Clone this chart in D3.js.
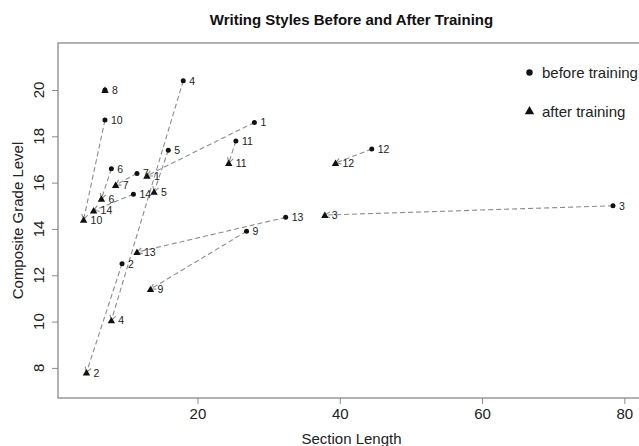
<!DOCTYPE html>
<html>
<head>
<meta charset="utf-8">
<script src="https://cdn.jsdelivr.net/npm/d3@7"></script>
<style>
  body { margin: 0; background: #fff; }
  svg { display: block; font-family: "Liberation Sans", Arial, sans-serif; }
</style>
</head>
<body>
<div id="chart"></div>
<script>
// essay ids and values
const ids = [1, 2, 3, 4, 5, 6, 7, 8, 9, 10, 11, 12, 13, 14]
const beforeLength = [28.0, 9.4, 78.4, 18.0, 15.9, 7.9, 11.5, 7.0, 26.9, 7.0, 25.4, 44.5, 32.4, 11.0]
const beforeGrade = [18.6, 12.5, 15.0, 20.4, 17.4, 16.6, 16.4, 20.0, 13.9, 18.7, 17.8, 17.45, 14.5, 15.5]
const afterLength = [12.9, 4.4, 37.9, 7.9, 13.9, 6.5, 8.5, 7.0, 13.4, 4.0, 24.4, 39.4, 11.5, 5.4]
const afterGrade = [16.3, 7.8, 14.6, 10.05, 15.6, 15.3, 15.9, 20.0, 11.4, 14.4, 16.85, 16.85, 13.0, 14.8]

const xTicks = [20, 40, 60, 80]
const yTicks = [8, 10, 12, 14, 16, 18, 20]

const W = 639, H = 446
const box = {left: 58, right: 645, top: 43, bottom: 398}

const svg = d3.select("#chart").append("svg")
  .attr("width", W).attr("height", H)

const x = d3.scaleLinear().domain([0.4, 82.9]).range([box.left, box.right])
const y = d3.scaleLinear().domain([6.7, 22.03]).range([box.bottom, box.top])

const axisColor = "#8a8a8a"
const textColor = "#222"

// frame
svg.append("rect")
  .attr("x", box.left).attr("y", box.top)
  .attr("width", box.right - box.left).attr("height", box.bottom - box.top)
  .attr("fill", "none").attr("stroke", axisColor).attr("stroke-width", 1.3)

// x axis
const xa = svg.append("g").attr("transform", `translate(0,${box.bottom})`)
  .call(d3.axisBottom(x).tickValues(xTicks).tickSize(6).tickPadding(4))
xa.select(".domain").remove()
xa.selectAll("line").attr("stroke", axisColor)
xa.selectAll("text").attr("font-size", 15).attr("fill", textColor)
  .attr("font-family", "Liberation Sans, Arial, sans-serif")

// y axis, labels rotated like base R
const ya = svg.append("g").attr("transform", `translate(${box.left},0)`)
  .call(d3.axisLeft(y).tickValues(yTicks).tickSize(6))
ya.select(".domain").remove()
ya.selectAll("line").attr("stroke", axisColor)
ya.selectAll("text").remove()
svg.append("g").selectAll("text")
  .data(yTicks).enter().append("text")
  .attr("transform", d => `translate(44,${y(d)}) rotate(-90)`)
  .attr("text-anchor", "middle")
  .attr("font-size", 15).attr("fill", textColor)
  .text(d => d)

// titles
svg.append("text")
  .attr("x", (box.left + box.right) / 2).attr("y", 25)
  .attr("text-anchor", "middle").attr("font-weight", "bold")
  .attr("font-size", 15).attr("fill", "#111")
  .text("Writing Styles Before and After Training")

svg.append("text")
  .attr("x", (box.left + box.right) / 2).attr("y", 444)
  .attr("text-anchor", "middle").attr("font-size", 15).attr("fill", textColor)
  .text("Section Length")

svg.append("text")
  .attr("transform", `translate(23,${(box.top + box.bottom) / 2}) rotate(-90)`)
  .attr("text-anchor", "middle").attr("font-size", 15).attr("fill", textColor)
  .text("Composite Grade Level")

const rows = ids.map((id, i) => ({
  id: id,
  x0: beforeLength[i], y0: beforeGrade[i],
  x1: afterLength[i], y1: afterGrade[i]
}))

// dashed arrows from before to after
const lineColor = "#8c8c8c"
const arrows = svg.append("g")
rows.filter(d => d.x0 !== d.x1 || d.y0 !== d.y1).forEach(d => {
  const px0 = x(d.x0), py0 = y(d.y0), px1 = x(d.x1), py1 = y(d.y1)
  arrows.append("line")
    .attr("x1", px0).attr("y1", py0).attr("x2", px1).attr("y2", py1)
    .attr("stroke", lineColor).attr("stroke-width", 1.1)
    .attr("stroke-dasharray", "5,3")
  const ang = Math.atan2(py0 - py1, px0 - px1)
  const len = 6, spread = Math.PI / 6
  const path = d3.path()
  path.moveTo(px1 + len * Math.cos(ang + spread), py1 + len * Math.sin(ang + spread))
  path.lineTo(px1, py1)
  path.lineTo(px1 + len * Math.cos(ang - spread), py1 + len * Math.sin(ang - spread))
  arrows.append("path").attr("d", path.toString())
    .attr("fill", "none").attr("stroke", lineColor).attr("stroke-width", 1.1)
})

// before points
svg.append("g").selectAll("circle")
  .data(rows).enter().append("circle")
  .attr("cx", d => x(d.x0)).attr("cy", d => y(d.y0))
  .attr("r", 2.5).attr("fill", "#111")

// after points
const tri = d3.symbol().type(d3.symbolTriangle).size(24)
svg.append("g").selectAll("path")
  .data(rows).enter().append("path")
  .attr("d", tri)
  .attr("transform", d => `translate(${x(d.x1)},${y(d.y1) + 0.8})`)
  .attr("fill", "#111")

// labels
const lab = svg.append("g").attr("font-size", 10.5).attr("fill", textColor)
rows.filter(d => d.x0 !== d.x1 || d.y0 !== d.y1).forEach(d => {
  lab.append("text").attr("x", x(d.x0) + 6).attr("y", y(d.y0))
    .attr("dominant-baseline", "central").text(d.id)
})
rows.forEach(d => {
  lab.append("text").attr("x", x(d.x1) + 7).attr("y", y(d.y1))
    .attr("dominant-baseline", "central").text(d.id)
})

// legend
const legend = svg.append("g")
legend.append("circle").attr("cx", 529.5).attr("cy", 72.5).attr("r", 3.2).attr("fill", "#111")
legend.append("text").attr("x", 542).attr("y", 72.5)
  .attr("dominant-baseline", "central").attr("font-size", 15).attr("fill", textColor)
  .text("before training")
legend.append("path")
  .attr("d", d3.symbol().type(d3.symbolTriangle).size(38))
  .attr("transform", "translate(529.5,111.5)").attr("fill", "#111")
legend.append("text").attr("x", 542).attr("y", 111)
  .attr("dominant-baseline", "central").attr("font-size", 15).attr("fill", textColor)
  .text("after training")
</script>
</body>
</html>
